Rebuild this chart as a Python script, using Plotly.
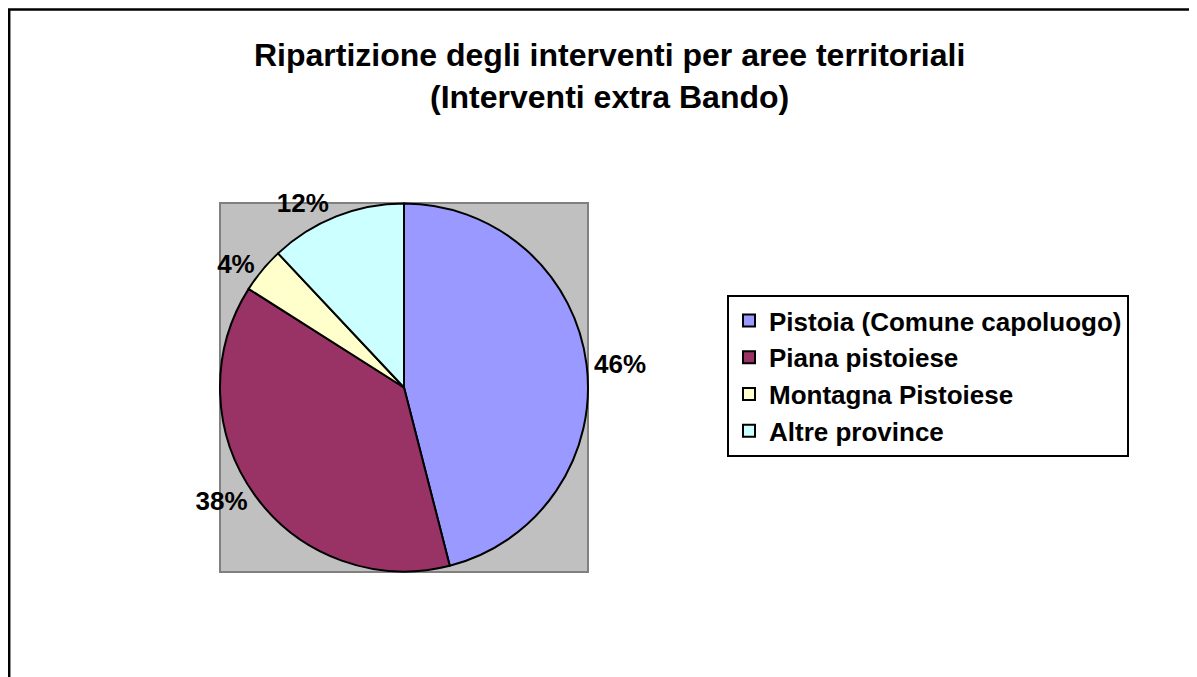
import plotly.graph_objects as go

labels = ["Pistoia (Comune capoluogo)", "Piana pistoiese", "Montagna Pistoiese", "Altre province"]
values = [23, 19, 2, 6]
colors = ["#9999FF", "#993366", "#FFFFCC", "#CCFFFF"]
title_lines = ["Ripartizione degli interventi per aree territoriali", "(Interventi extra Bando)"]

OFF = 8  # page body margin
W, H = 1197 - OFF, 677 - OFF
FONT = "Arial, Liberation Sans, sans-serif"

def px(x):
    return (x - OFF) / W

def py(y):
    return 1 - (y - OFF) / H

fig = go.Figure()
fig.add_trace(go.Pie(
    labels=["<b>" + l + "</b>" for l in labels],
    values=values,
    sort=False,
    direction="clockwise",
    rotation=0,
    marker=dict(colors=colors, line=dict(color="black", width=2)),
    texttemplate="<b>%{percent:.0%}</b>",
    textposition="outside",
    textfont=dict(family=FONT, size=26, color="black"),
    domain=dict(x=[px(220), px(588)], y=[py(572), py(203)]),
    hovertemplate="%{label}: %{percent}<extra></extra>",
))

fig.update_layout(
    width=W, height=H,
    margin=dict(l=0, r=0, t=0, b=0),
    paper_bgcolor="white",
    plot_bgcolor="white",
    font=dict(family=FONT, color="black"),
    legend=dict(
        x=px(727), y=py(295), xanchor="left", yanchor="top",
        bordercolor="black", borderwidth=2,
        bgcolor="white",
        font=dict(family=FONT, size=26, color="black"),
    ),
    annotations=[
        dict(text="<b>" + title_lines[0] + "</b>", xref="paper", yref="paper",
             x=px(609), y=py(55), xanchor="center", yanchor="middle", showarrow=False,
             font=dict(family=FONT, size=32, color="black")),
        dict(text="<b>" + title_lines[1] + "</b>", xref="paper", yref="paper",
             x=px(609), y=py(97), xanchor="center", yanchor="middle", showarrow=False,
             font=dict(family=FONT, size=32, color="black")),
    ],
    shapes=[
        dict(type="rect", xref="paper", yref="paper",
             x0=px(220), x1=px(588), y0=py(572), y1=py(203),
             fillcolor="#C0C0C0", line=dict(color="#808080", width=2), layer="below"),
        dict(type="rect", xref="paper", yref="paper",
             x0=px(9.2), x1=1.05, y0=-0.05, y1=py(9.5),
             fillcolor="rgba(0,0,0,0)", line=dict(color="black", width=2.5), layer="above"),
    ],
)

fig.write_html("out.html")
